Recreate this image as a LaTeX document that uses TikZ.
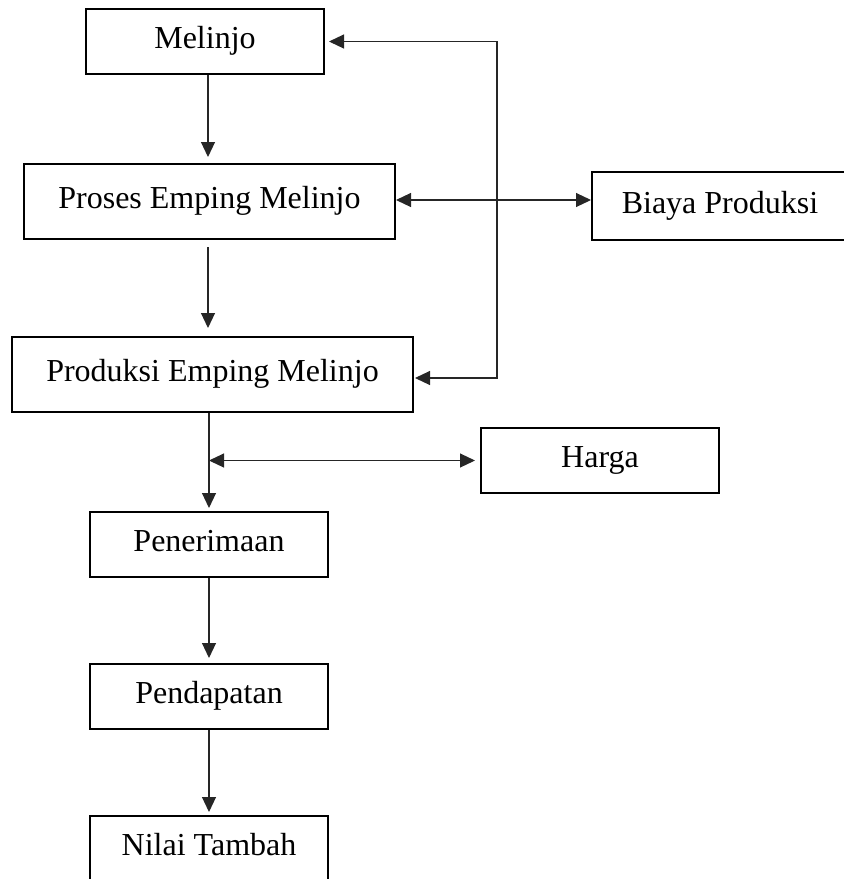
\documentclass[tikz,border=0pt]{standalone}
\usepackage{fontspec}
\setmainfont{Liberation Serif}
\usetikzlibrary{arrows.meta,calc}
\begin{document}
\begin{tikzpicture}[x=1pt,y=-1pt,
  box/.style={draw, line width=2pt, inner sep=0pt, minimum height=65pt,
    text height=21pt, text depth=7pt, font=\fontsize{32}{38}\selectfont},
  conn/.style={line width=1.1pt, draw=black!85},
  tip/.style={-{Triangle[length=15pt,width=14pt]}},
  both/.style={{Triangle[length=15pt,width=14pt]}-{Triangle[length=15pt,width=14pt]}}]
\useasboundingbox (0,0) rectangle (844,879);
\node[box, minimum width=238pt] (mel) at (205,41.5) {Melinjo};
\node[box, minimum width=371pt, minimum height=75pt] (pro) at (209.5,201.5) {Proses Emping Melinjo};
\node[box, minimum width=256pt, minimum height=68pt] (bia) at (720,206) {Biaya Produksi};
\node[box, minimum width=401pt, minimum height=75pt] (prod) at (212.5,374.5) {Produksi Emping Melinjo};
\node[box, minimum width=238pt] (har) at (600,460.5) {Harga};
\node[box, minimum width=238pt] (pen) at (209,544.5) {Penerimaan};
\node[box, minimum width=238pt] (pend) at (209,696.5) {Pendapatan};
\node[box, minimum width=238pt] (nil) at (209,848.5) {Nilai Tambah};
\coordinate (sp) at (208,0);
\coordinate (sp2) at (209,0);
\coordinate (vl) at (497,200);
% main chain
\draw[conn,tip,shorten >=6pt] (mel.south -| sp) -- (pro.north -| sp);
\draw[conn,tip,shorten <=7pt,shorten >=8pt] (pro.south -| sp) -- (prod.north -| sp);
\draw[conn,tip,shorten >=3pt] (prod.south -| sp2) -- (pen.north -| sp2);
\draw[conn,tip,shorten >=5pt] (pen.south -| sp2) -- (pend.north -| sp2);
\draw[conn,tip,shorten >=3pt] (pend.south -| sp2) -- (nil.north -| sp2);
% side links
\draw[conn,both] ([xshift=4pt]mel.east) -| (vl) |- ([xshift=1pt,yshift=-3.5pt]prod.east);
\draw[conn,both] ([yshift=1.5pt]pro.east) -- ([yshift=1.5pt]pro.east -| bia.west);
\draw[conn,both] (har.west -| sp2) -- ([xshift=-5pt]har.west);
\end{tikzpicture}
\end{document}
